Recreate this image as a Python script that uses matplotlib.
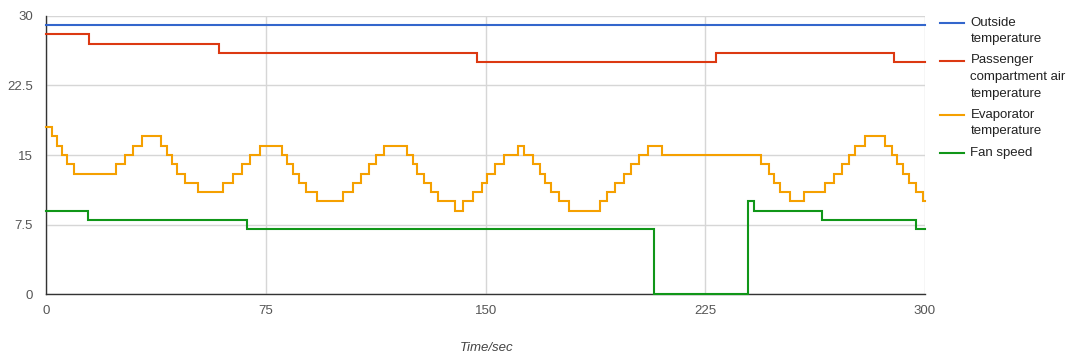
import matplotlib
matplotlib.use("Agg")
import matplotlib.pyplot as plt
from matplotlib.lines import Line2D

plt.rcParams['font.family'] = ['Liberation Sans', 'DejaVu Sans']

# ---- data (change points, value holds until next time) ----
outside_t = [0, 300]
outside_v = [29, 29]

passenger_t = [0, 14.7, 59.0, 147.0, 228.6, 289.5, 300]
passenger_v = [28, 27, 26, 25, 26, 25, 25]

evap_t = [0, 2, 3.5, 5.5, 7.2, 9.5, 23.8, 26.9, 29.5, 32.6, 39.1, 41.1, 42.8,
          44.5, 47.4, 51.9, 60.2, 63.7, 66.7, 69.6, 72.8, 80.4, 82.1, 84.1,
          86.4, 88.7, 92.3, 101.4, 104.6, 107.4, 110.3, 112.6, 115.3, 123.1,
          125.1, 126.7, 128.8, 131.3, 133.9, 139.6, 142.4, 145.8, 148.7, 150.4,
          153.2, 156.1, 160.9, 163.1, 166.3, 168.6, 170.3, 172.3, 175.2, 178.3,
          188.9, 191.4, 194.2, 197.1, 199.6, 202.2, 205.3, 210.2, 244.1, 246.6,
          248.5, 250.6, 253.8, 258.8, 265.9, 268.8, 271.6, 273.9, 276.2, 279.6,
          286.4, 288.7, 290.4, 292.5, 294.7, 297.0, 299.3, 300]
evap_v = [18, 17, 16, 15, 14, 13, 14, 15, 16, 17, 16, 15, 14,
          13, 12, 11, 12, 13, 14, 15, 16, 15, 14, 13,
          12, 11, 10, 11, 12, 13, 14, 15, 16, 15,
          14, 13, 12, 11, 10, 9, 10, 11, 12, 13,
          14, 15, 16, 15, 14, 13, 12, 11, 10, 9,
          10, 11, 12, 13, 14, 15, 16, 15, 14, 13,
          12, 11, 10, 11, 12, 13, 14, 15, 16, 17,
          16, 15, 14, 13, 12, 11, 10, 10]

fan_t = [0, 14.1, 68.4, 207.4, 239.4, 241.6, 264.8, 297.0, 300]
fan_v = [9, 8, 7, 0, 10, 9, 8, 7, 7]

series_names = ["Outside\ntemperature",
                "Passenger\ncompartment air\ntemperature",
                "Evaporator\ntemperature",
                "Fan speed"]
series_colors = ["#3366cc", "#dc3912", "#f5a000", "#109618"]
series_data = [(outside_t, outside_v), (passenger_t, passenger_v),
               (evap_t, evap_v), (fan_t, fan_v)]

x_ticks = [0, 75, 150, 225, 300]
y_ticks = [0, 7.5, 15, 22.5, 30]
y_tick_labels = ["0", "7.5", "15", "22.5", "30"]

W, H = 1074, 357
fig = plt.figure(figsize=(W / 100, H / 100), dpi=100)
L, R, T, B = 46.3, 925, 15.7, 294.3
ax = fig.add_axes([L / W, 1 - B / H, (R - L) / W, (B - T) / H])

for (t, v), c in zip(series_data, series_colors):
    ax.plot(t, v, drawstyle='steps-post', color=c, lw=1.5, clip_on=False,
            solid_joinstyle='miter', zorder=3)

ax.set_xlim(0, 300)
ax.set_ylim(0, 30)
ax.set_xticks(x_ticks)
ax.set_yticks(y_ticks)
ax.set_yticklabels(y_tick_labels)
ax.tick_params(length=0, labelsize=9.5, colors="#555555")
ax.tick_params(axis='y', pad=9.5)
ax.tick_params(axis='x', pad=8)
ax.grid(True, color="#d6d6d6", lw=1)
for s in ['top', 'right']:
    ax.spines[s].set_visible(False)
for s in ['left', 'bottom']:
    ax.spines[s].set_color("#333333")
    ax.spines[s].set_linewidth(1)
    ax.spines[s].set_zorder(2)

fig.text(486.5 / W, 1 - 348 / H, "Time/sec", ha='center', va='center',
         style='italic', fontsize=9.5, color="#444444")

# legend
leg_first_y = [22.5, 60.5, 114.7, 153.3]
line_h = 16.6
for name, c, y0 in zip(series_names, series_colors, leg_first_y):
    fig.add_artist(Line2D([940 / W, 964 / W], [1 - y0 / H, 1 - y0 / H],
                          color=c, lw=1.5, transform=fig.transFigure))
    for k, ln in enumerate(name.split("\n")):
        fig.text(970.5 / W, 1 - (y0 + k * line_h) / H, ln, ha='left',
                 va='center', fontsize=9.5, color="#222222")

fig.savefig("out.png", dpi=100)
